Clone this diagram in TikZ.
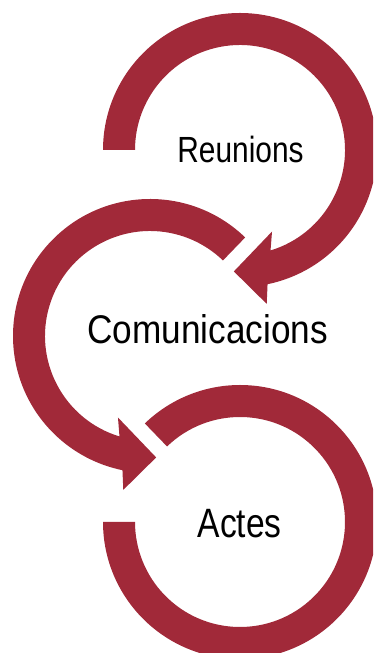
\documentclass[tikz,border=0pt]{standalone}
\usepackage{fontspec}
\usepackage{tikz}
\usepackage{xcolor}
\usetikzlibrary{positioning,calc}

\newfontfamily\narrowsf[FakeStretch=0.82]{Liberation Sans}
\newfontfamily\widersf[FakeStretch=0.88]{Liberation Sans}
\definecolor{ringred}{RGB}{161,41,57}

\tikzset{
  ringarrow/.style={fill=ringred,draw=none},
  ringlabel/.style={font=\narrowsf,text=black,inner sep=0pt,anchor=base}
}

\begin{document}
\begin{tikzpicture}[x=1pt,y=1pt]
    \clip (0,0) rectangle (373,653);
    \coordinate (c1) at (240,503);
    \coordinate (c2) at (150,317);
    \coordinate (c3) at (240,131);
    % Reunions -> Comunicacions
    \begin{scope}[shift={(c1)}]
        \fill[ringarrow] (180:137) arc[start angle=180,end angle=-78.4,radius=137]
            -- (-80.15:156.2) -- (-92.9:121.6) -- (-68.55:87.6) -- (-73.1:105)
            arc[start angle=-73.1,end angle=180,radius=105] -- cycle;
    \end{scope}
    % Comunicacions -> Actes
    \begin{scope}[shift={(c2)}]
        \fill[ringarrow] (46:137) arc[start angle=46,end angle=258.4,radius=137]
            -- (260.15:156.2) -- (272.9:121.6) -- (248.55:87.6) -- (253.1:105)
            arc[start angle=253.1,end angle=46,radius=105] -- cycle;
    \end{scope}
    % Actes
    \begin{scope}[shift={(c3)}]
        \fill[ringarrow] (180:137) arc[start angle=180,end angle=494,radius=137]
            -- (134:105) arc[start angle=134,end angle=-180,radius=105] -- cycle;
    \end{scope}
    \node[ringlabel,font=\narrowsf\fontsize{36.4}{40}\selectfont] (reunions) at (240.5,490.7) {Reunions};
    \node[ringlabel,font=\widersf\fontsize{40}{44}\selectfont] (comunicacions) at (207.5,309) {Comunicacions};
    \node[ringlabel,font=\narrowsf\fontsize{41}{45}\selectfont] (actes) at (239.7,115.7) {Actes};
\end{tikzpicture}
\end{document}
